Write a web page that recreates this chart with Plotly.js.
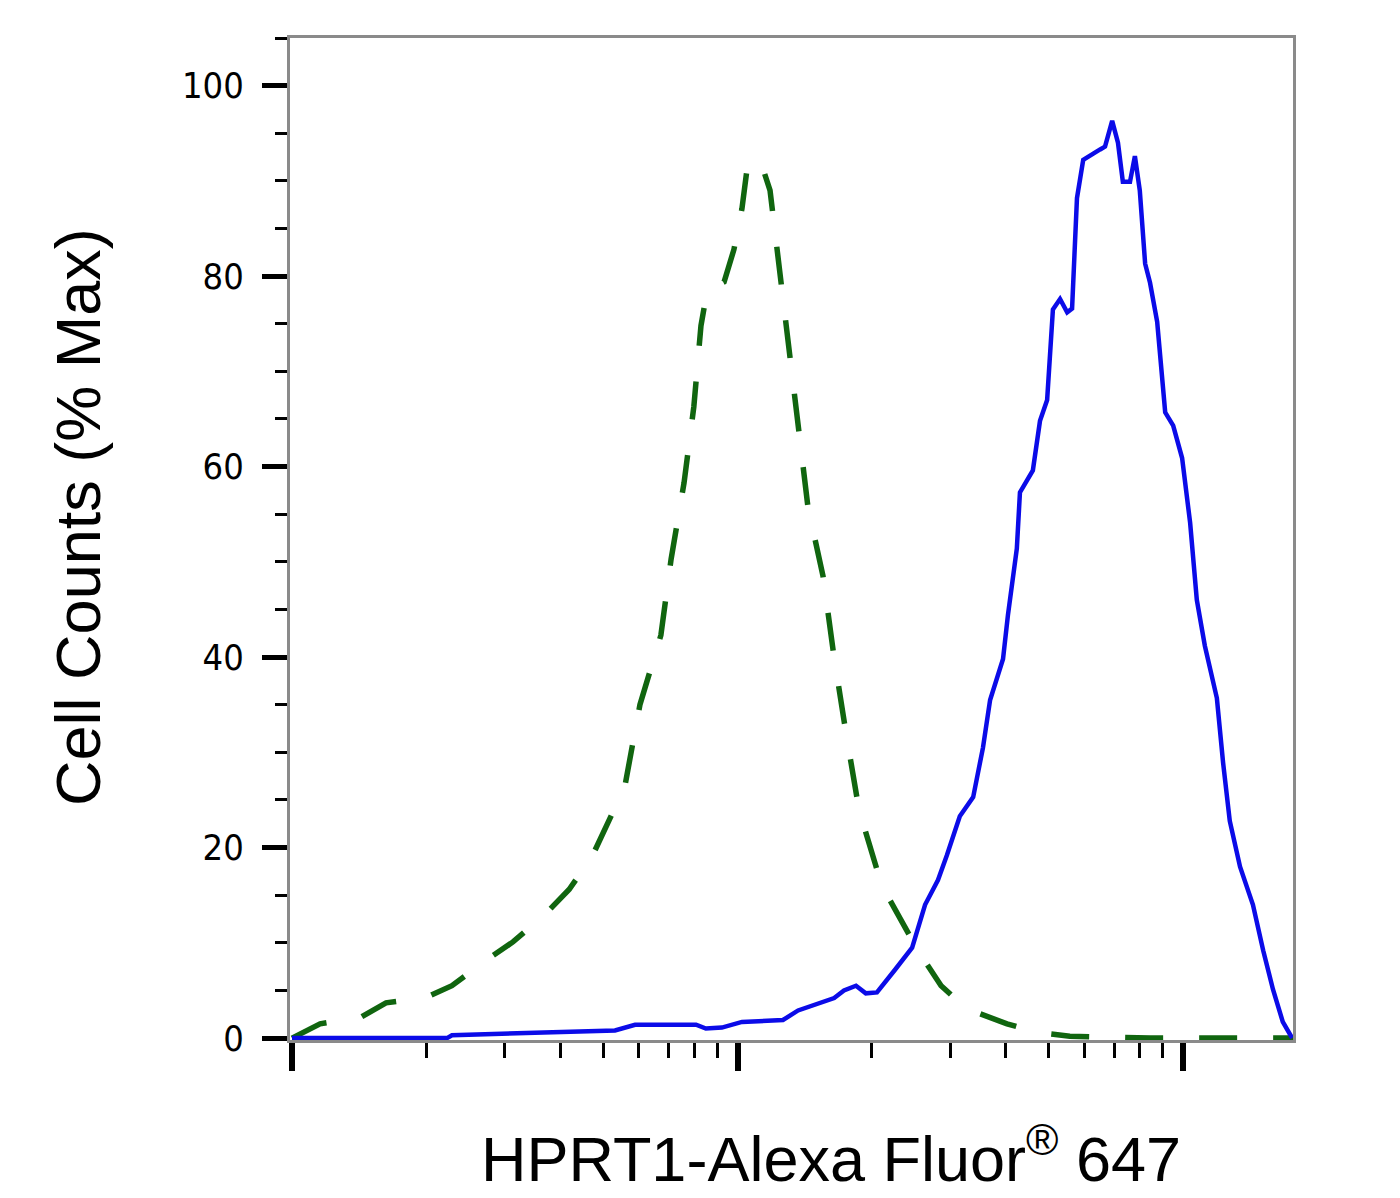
<!DOCTYPE html>
<html>
<head>
<meta charset="utf-8">
<script src="https://cdn.plot.ly/plotly-3.0.1.min.js"></script>
<style>
  html, body { margin: 0; padding: 0; background: #fff; }
  #hist { width: 1400px; height: 1198px; }
</style>
</head>
<body>
<div id="hist"></div>
<script>
// channel positions are kept as log10 of the fluorescence intensity
const isotypeLogX = [2.000, 2.063, 2.155, 2.211, 2.303, 2.359, 2.440, 2.496, 2.566, 2.622,
    2.673, 2.703, 2.747, 2.781, 2.828, 2.851, 2.880, 2.902, 2.918, 2.932,
    2.970, 2.992, 3.010, 3.021, 3.050, 3.073, 3.095, 3.118, 3.136, 3.158,
    3.192, 3.217, 3.244, 3.273, 3.324, 3.405, 3.457, 3.513, 3.605, 3.672,
    3.746, 3.814, 3.926, 4.247];
const isotypeCounts = [0, 1.5, 2.2, 3.7, 4.3, 5.5, 8.3, 10.1, 12.9, 15.6,
    19.0, 22.0, 26.4, 35.0, 42.3, 50.3, 58.3, 66.3, 74.8, 78.5,
    79.4, 82.8, 87.1, 91.1, 92.3, 89.0, 80.4, 72.4, 64.4, 55.8,
    48.5, 39.9, 31.9, 23.9, 16.0, 9.2, 5.5, 3.1, 1.5, 0.6,
    0.2, 0.1, 0, 0];

const hprtLogX = [2.000, 2.348, 2.359, 2.541, 2.725, 2.770, 2.907, 2.929, 2.965, 3.010,
    3.102, 3.136, 3.181, 3.217, 3.239, 3.266, 3.288, 3.313, 3.354, 3.392,
    3.421, 3.450, 3.470, 3.499, 3.529, 3.551, 3.567, 3.596, 3.607, 3.627,
    3.634, 3.663, 3.679, 3.695, 3.708, 3.724, 3.740, 3.751, 3.762, 3.776,
    3.814, 3.825, 3.841, 3.854, 3.865, 3.881, 3.892, 3.903, 3.915, 3.926,
    3.942, 3.960, 3.978, 3.998, 4.016, 4.031, 4.049, 4.076, 4.090, 4.105,
    4.128, 4.157, 4.180, 4.202, 4.224, 4.245];
const hprtCounts = [0, 0, 0.3, 0.5, 0.8, 1.4, 1.4, 1.0, 1.1, 1.7,
    1.9, 2.9, 3.6, 4.2, 5.0, 5.5, 4.7, 4.8, 7.2, 9.5,
    14.0, 16.6, 19.2, 23.3, 25.3, 30.5, 35.5, 39.8, 44.4, 51.4,
    57.3, 59.6, 64.8, 67.0, 76.5, 77.6, 76.2, 76.6, 88.2, 92.2,
    93.3, 93.6, 96.3, 94.0, 89.9, 89.9, 92.6, 89.0, 81.3, 79.3,
    75.2, 65.7, 64.3, 60.9, 54.1, 46.0, 41.2, 35.7, 28.9, 22.8,
    18.0, 14.0, 9.2, 5.1, 1.7, 0];

const majorX = [100, 1000, 10000];
const minorX = [200, 300, 400, 500, 600, 700, 800, 900,
    2000, 3000, 4000, 5000, 6000, 7000, 8000, 9000];
const yTicks = [0, 20, 40, 60, 80, 100];

const toLinear = arr => arr.map(v => Math.pow(10, v));

const isotype = {
    x: toLinear(isotypeLogX),
    y: isotypeCounts,
    mode: 'lines',
    type: 'scatter',
    name: 'Isotype control',
    line: { color: '#10650f', width: 5.5, dash: '38px,36px' },
    hoverinfo: 'skip'
};

const hprt = {
    x: toLinear(hprtLogX),
    y: hprtCounts,
    mode: 'lines',
    type: 'scatter',
    name: 'HPRT1',
    line: { color: '#0b0be8', width: 4.5 },
    hoverinfo: 'skip'
};

const tickFont = {
    family: '"DejaVu Sans Condensed", "Liberation Sans", Arial, sans-serif',
    size: 36,
    color: '#000'
};
const titleFont = { family: '"Liberation Sans", Arial, sans-serif', size: 63, color: '#000' };

const layout = {
    width: 1400,
    height: 1198,
    margin: { l: 290, r: 107, t: 38, b: 158 },
    paper_bgcolor: '#fff',
    plot_bgcolor: '#fff',
    showlegend: false,
    xaxis: {
        type: 'log',
        range: [1.9955, 4.2469],
        tickmode: 'array',
        tickvals: majorX,
        showticklabels: false,
        ticks: 'outside',
        ticklen: 28,
        tickwidth: 6,
        tickcolor: '#000',
        minor: {
            tickmode: 'array',
            tickvals: minorX,
            ticks: 'outside',
            ticklen: 15,
            tickwidth: 3,
            tickcolor: '#000'
        },
        showgrid: false,
        zeroline: false,
        showline: true,
        mirror: true,
        linecolor: '#8a8a8a',
        linewidth: 3
    },
    yaxis: {
        range: [-0.2, 105],
        tickmode: 'array',
        tickvals: yTicks,
        ticks: 'outside',
        ticklen: 25,
        tickwidth: 5,
        tickcolor: '#000',
        minor: {
            dtick: 5,
            ticks: 'outside',
            ticklen: 12,
            tickwidth: 3,
            tickcolor: '#000'
        },
        tickfont: tickFont,
        ticklabelstandoff: 11,
        showgrid: false,
        zeroline: false,
        showline: true,
        mirror: true,
        linecolor: '#8a8a8a',
        linewidth: 3
    },
    annotations: [
        {
            text: 'HPRT1-Alexa Fluor<sup>®</sup> 647',
            xref: 'paper', yref: 'paper',
            x: 0.5394, y: -0.1145,
            xanchor: 'center', yanchor: 'middle',
            showarrow: false,
            font: titleFont
        },
        {
            text: 'Cell Counts (% Max)',
            xref: 'paper', yref: 'paper',
            x: -0.2114, y: 0.522,
            xanchor: 'center', yanchor: 'middle',
            textangle: -90,
            showarrow: false,
            font: titleFont
        }
    ]
};

Plotly.newPlot('hist', [isotype, hprt], layout, { staticPlot: true, displayModeBar: false });
</script>
</body>
</html>
